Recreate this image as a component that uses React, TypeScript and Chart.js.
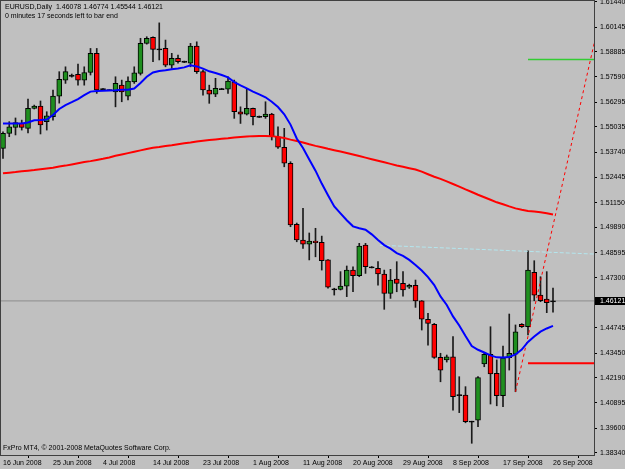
import React, { useEffect, useRef } from 'react';
import { Chart, registerables } from 'chart.js';

Chart.register(...registerables);

// ---- Data (EURUSD daily, 16 Jun 2008 .. 26 Sep 2008, one value per bar) ----
const openP = [
  1.5393, 1.5470, 1.5501, 1.5521, 1.5496, 1.5598, 1.5610, 1.5530, 1.5555, 1.5661,
  1.5743, 1.5765, 1.5772, 1.5743, 1.5782, 1.5880, 1.5696, 1.5692, 1.5683, 1.5717,
  1.5661, 1.5734, 1.5777, 1.5931, 1.5962, 1.5900, 1.5905, 1.5820, 1.5854, 1.5837,
  1.5829, 1.5917, 1.5786, 1.5692, 1.5671, 1.5697, 1.5697, 1.5734, 1.5581, 1.5568,
  1.5598, 1.5555, 1.5555, 1.5569, 1.5453, 1.5399, 1.5317, 1.5004, 1.4924, 1.4903,
  1.4919, 1.4912, 1.4822, 1.4671, 1.4671, 1.4688, 1.4770, 1.4741, 1.4898, 1.4784,
  1.4779, 1.4750, 1.4651, 1.4724, 1.4702, 1.4682, 1.4692, 1.4612, 1.4518, 1.4492,
  1.4323, 1.4310, 1.4326, 1.4130, 1.4130, 1.3994, 1.4002, 1.4289, 1.4339, 1.4241,
  1.4127, 1.4321, 1.4340, 1.4492, 1.4480, 1.4758, 1.4642, 1.4622, 1.46078,
];
const highP = [
  1.5478, 1.5530, 1.5549, 1.5538, 1.5646, 1.5615, 1.5636, 1.5581, 1.5692, 1.5786,
  1.5811, 1.5774, 1.5825, 1.5811, 1.5905, 1.5905, 1.5700, 1.5694, 1.5760, 1.5743,
  1.5760, 1.5811, 1.5957, 1.5965, 1.5965, 1.6036, 1.5948, 1.5880, 1.5871, 1.5840,
  1.5931, 1.5939, 1.5794, 1.5717, 1.5752, 1.5701, 1.5760, 1.5743, 1.5606, 1.5701,
  1.5600, 1.5559, 1.5632, 1.5573, 1.5504, 1.5496, 1.5325, 1.5011, 1.5086, 1.4960,
  1.4984, 1.4944, 1.4824, 1.4677, 1.4762, 1.4791, 1.4787, 1.4907, 1.4907, 1.4788,
  1.4813, 1.4770, 1.4774, 1.4813, 1.4762, 1.4698, 1.4719, 1.4614, 1.4549, 1.4497,
  1.4344, 1.4335, 1.4429, 1.4224, 1.4173, 1.3996, 1.4224, 1.4344, 1.4480, 1.4310,
  1.4381, 1.4545, 1.4489, 1.4496, 1.4869, 1.4818, 1.4736, 1.4762, 1.46774,
];
const lowP = [
  1.5342, 1.5453, 1.5462, 1.5487, 1.5472, 1.5595, 1.5467, 1.5487, 1.5538, 1.5625,
  1.5726, 1.5758, 1.5717, 1.5717, 1.5769, 1.5675, 1.5692, 1.5689, 1.5606, 1.5632,
  1.5641, 1.5726, 1.5769, 1.5927, 1.5837, 1.5846, 1.5811, 1.5803, 1.5829, 1.5833,
  1.5811, 1.5777, 1.5666, 1.5624, 1.5658, 1.5694, 1.5675, 1.5547, 1.5521, 1.5564,
  1.5513, 1.5551, 1.5547, 1.5436, 1.5393, 1.5299, 1.4992, 1.4915, 1.4881, 1.4822,
  1.4838, 1.4770, 1.4677, 1.4642, 1.4668, 1.4634, 1.4659, 1.4736, 1.4753, 1.4781,
  1.4693, 1.4569, 1.4625, 1.4659, 1.4637, 1.4676, 1.4579, 1.4463, 1.4386, 1.4318,
  1.4198, 1.4299, 1.4053, 1.4040, 1.3988, 1.3883, 1.3968, 1.4275, 1.4084, 1.4075,
  1.4070, 1.4258, 1.4147, 1.4476, 1.4438, 1.4613, 1.4608, 1.4552, 1.45544,
];
const closeP = [
  1.5470, 1.5504, 1.5525, 1.5501, 1.5598, 1.5610, 1.5513, 1.5560, 1.5661, 1.5747,
  1.5786, 1.5765, 1.5743, 1.5782, 1.5880, 1.5692, 1.5696, 1.5692, 1.5726, 1.5683,
  1.5738, 1.5780, 1.5931, 1.5957, 1.5900, 1.5900, 1.5820, 1.5854, 1.5837, 1.5837,
  1.5917, 1.5786, 1.5692, 1.5671, 1.5701, 1.5697, 1.5738, 1.5581, 1.5568, 1.5598,
  1.5555, 1.5555, 1.5569, 1.5453, 1.5399, 1.5317, 1.5001, 1.4924, 1.4903, 1.4919,
  1.4910, 1.4818, 1.4682, 1.4671, 1.4688, 1.4770, 1.4741, 1.4893, 1.4787, 1.4784,
  1.4750, 1.4651, 1.4719, 1.4702, 1.4668, 1.4692, 1.4612, 1.4518, 1.4497, 1.4323,
  1.4258, 1.4326, 1.4122, 1.4130, 1.3994, 1.3994, 1.4219, 1.4339, 1.4238, 1.4127,
  1.4321, 1.4344, 1.4454, 1.4480, 1.4770, 1.4642, 1.4613, 1.4603, 1.46121,
];
const maFast = [
  1.5521, 1.5521, 1.5521, 1.5521, 1.5526, 1.5537, 1.5538, 1.5541, 1.5564, 1.5595,
  1.5615, 1.5630, 1.5646, 1.5666, 1.5684, 1.5687, 1.5688, 1.5690, 1.5691, 1.5693,
  1.5694, 1.5700, 1.5728, 1.5760, 1.5782, 1.5790, 1.5793, 1.5798, 1.5802, 1.5808,
  1.5819, 1.5813, 1.5802, 1.5788, 1.5779, 1.5769, 1.5757, 1.5733, 1.5716, 1.5701,
  1.5684, 1.5670, 1.5655, 1.5632, 1.5605, 1.5568, 1.5515, 1.5444, 1.5395, 1.5336,
  1.5279, 1.5213, 1.5153, 1.5096, 1.5060, 1.5025, 1.4994, 1.4984, 1.4977, 1.4953,
  1.4924, 1.4898, 1.4880, 1.4857, 1.4843, 1.4822, 1.4796, 1.4768, 1.4734, 1.4693,
  1.4635, 1.4591, 1.4533, 1.4486, 1.4432, 1.4381, 1.4362, 1.4348, 1.4333, 1.4323,
  1.4322, 1.4325, 1.4338, 1.4363, 1.4402, 1.4430, 1.4455, 1.4471, 1.4484,
];
const maSlow = [
  1.5266, 1.5269, 1.5272, 1.5276, 1.5279, 1.5282, 1.5286, 1.5290, 1.5294, 1.5300,
  1.5305, 1.5311, 1.5317, 1.5323, 1.5328, 1.5334, 1.5340, 1.5347, 1.5355, 1.5362,
  1.5369, 1.5376, 1.5383, 1.5390, 1.5396, 1.5400, 1.5405, 1.5409, 1.5414, 1.5419,
  1.5423, 1.5428, 1.5432, 1.5436, 1.5439, 1.5442, 1.5445, 1.5449, 1.5452, 1.5454,
  1.5456, 1.5457, 1.5457, 1.5456, 1.5452, 1.5446, 1.5438, 1.5431, 1.5423, 1.5414,
  1.5406, 1.5399, 1.5391, 1.5384, 1.5377, 1.5370, 1.5362, 1.5354, 1.5346, 1.5338,
  1.5330, 1.5322, 1.5314, 1.5306, 1.5299, 1.5292, 1.5285, 1.5274, 1.5261, 1.5248,
  1.5237, 1.5224, 1.5211, 1.5197, 1.5183, 1.5170, 1.5156, 1.5143, 1.5130, 1.5117,
  1.5107, 1.5096, 1.5086, 1.5079, 1.5073, 1.5070, 1.5066, 1.5061, 1.5055,
];

// drawn objects (x in bar index, y in price)
const trendX = [82, 94.6];
const trendY = [1.4147, 1.5933];
const cyanX = [60.3, 94.6];
const cyanY = [1.4897, 1.4852];
const greenX = [84, 94.6];
const greenY = [1.5849, 1.5849];
const redLvlX = [84, 94.6];
const redLvlY = [1.4293, 1.4293];

const xTickIdx = [0, 8, 16, 24, 32, 40, 48, 56, 64, 72, 80, 88];
const xTickLabels = [
  '16 Jun 2008', '25 Jun 2008', '4 Jul 2008', '14 Jul 2008', '23 Jul 2008', '1 Aug 2008',
  '11 Aug 2008', '20 Aug 2008', '29 Aug 2008', '8 Sep 2008', '17 Sep 2008', '26 Sep 2008',
];
const yTickLabels = [
  '1.61440', '1.60145', '1.58885', '1.57590', '1.56295', '1.55035', '1.53740', '1.52445',
  '1.51150', '1.49890', '1.48595', '1.47300', '1.44745', '1.43450', '1.42190', '1.40895',
  '1.39600', '1.38340',
];
const lastPrice = 1.46121;
const lastPriceLabel = '1.46121';
const headerTitle = 'EURUSD,Daily  1.46078 1.46774 1.45544 1.46121';
const headerTimer = '0 minutes 17 seconds left to bar end';
const copyright = 'FxPro MT4, \u00A9 2001-2008 MetaQuotes Software Corp.';

const X_MIN = -0.32;
const X_MAX = 94.56;
const Y_MIN = 1.3823;
const Y_MAX = 1.6148;

const FONT = '"Liberation Sans", Arial, sans-serif';
const BG = '#C0C0C0';
const UP = '#1F8F1F';
const DOWN = '#FF0000';

const pts = (xs: number[], ys: number[]) => xs.map((x, i) => ({ x, y: ys[i] }));

const mt4Plugin = {
  id: 'mt4',
  beforeDraw(chart: any) {
    const { ctx, width, height } = chart;
    ctx.save();
    ctx.fillStyle = BG;
    ctx.fillRect(0, 0, width, height);
    ctx.restore();
  },
  afterDraw(chart: any) {
    const { ctx, chartArea: a, scales } = chart;
    ctx.save();
    ctx.strokeStyle = '#404040';
    ctx.lineWidth = 1;
    ctx.strokeRect(a.left - 0.5, a.top - 0.5, a.right - a.left + 1, a.bottom - a.top + 1);
    // current price box
    const py = scales.y.getPixelForValue(lastPrice);
    ctx.fillStyle = '#000';
    ctx.fillRect(a.right + 1, Math.round(py) - 4, 31, 8);
    ctx.fillStyle = '#fff';
    ctx.font = `7px ${FONT}`;
    ctx.textBaseline = 'middle';
    ctx.textAlign = 'left';
    ctx.fillText(lastPriceLabel, a.right + 6, py);
    // texts
    ctx.fillStyle = '#000';
    ctx.fillText(headerTitle, 5, 7);
    ctx.fillText(headerTimer, 5, 16);
    ctx.fillText(copyright, 3, 448);
    ctx.restore();
  },
};

export default function App() {
  const ref = useRef<HTMLCanvasElement>(null);
  useEffect(() => {
    document.body.style.margin = '0';
    const idx = openP.map((_, i) => i);
    const isDoji = (i: number) => Math.abs(openP[i] - closeP[i]) < 0.0005;
    const bodyData = idx.map((i) => {
      if (isDoji(i)) {
        const m = (openP[i] + closeP[i]) / 2;
        return { x: i, y: [m - 0.0003, m + 0.0003] };
      }
      return { x: i, y: [Math.min(openP[i], closeP[i]), Math.max(openP[i], closeP[i])] };
    });
    const bodyColors = idx.map((i) => (isDoji(i) ? '#000' : closeP[i] > openP[i] ? UP : DOWN));
    const wickData = idx.map((i) => ({ x: i, y: [lowP[i], highP[i]] }));

    const lineBase = { type: 'line', pointRadius: 0, fill: false, tension: 0 };
    const chart = new Chart(ref.current as HTMLCanvasElement, {
      type: 'bar',
      data: {
        datasets: [
          { ...lineBase, label: 'MA fast', data: pts(idx, maFast), borderColor: '#0000FF', borderWidth: 2, order: 0 },
          { ...lineBase, label: 'MA slow', data: pts(idx, maSlow), borderColor: '#FF0000', borderWidth: 2, order: 0 },
          { ...lineBase, label: 'trend', data: pts(trendX, trendY), borderColor: '#FF0000', borderWidth: 1, borderDash: [3, 3], order: 0 },
          { ...lineBase, label: 'level', data: pts(cyanX, cyanY), borderColor: '#B4E6EE', borderWidth: 1, borderDash: [4, 2], order: 0 },
          { ...lineBase, label: 'green', data: pts(greenX, greenY), borderColor: '#33CC33', borderWidth: 1.5, order: 0 },
          { ...lineBase, label: 'red', data: pts(redLvlX, redLvlY), borderColor: '#FF0000', borderWidth: 2, order: 0 },
          {
            type: 'bar', label: 'body', data: bodyData, backgroundColor: bodyColors, borderColor: '#000',
            borderWidth: 1, borderSkipped: false, barThickness: 5, grouped: false, order: 1,
          },
          {
            type: 'bar', label: 'wick', data: wickData, backgroundColor: '#1A1A1A', borderWidth: 0,
            barThickness: 1, grouped: false, order: 2,
          },
          { ...lineBase, label: 'bid', data: pts([X_MIN, X_MAX], [lastPrice, lastPrice]), borderColor: '#8C8C8C', borderWidth: 1, order: 3 },
        ] as any,
      },
      options: {
        responsive: false,
        animation: false,
        devicePixelRatio: 1,
        layout: { padding: { left: 1, top: 1, right: 0, bottom: 0 } },
        plugins: { legend: { display: false }, tooltip: { enabled: false } },
        scales: {
          x: {
            type: 'linear',
            min: X_MIN,
            max: X_MAX,
            offset: false,
            grid: { display: true, drawOnChartArea: false, drawTicks: true, tickLength: 3, tickColor: '#000' },
            border: { display: true, color: '#505050' },
            ticks: {
              autoSkip: false, maxRotation: 0, minRotation: 0, align: 'start', padding: 1,
              font: { family: FONT, size: 7 }, color: '#000',
              callback: (_v: any, i: number) => xTickLabels[i] ?? '',
            },
            afterBuildTicks: (s: any) => { s.ticks = xTickIdx.map((v) => ({ value: v })); },
            afterFit: (s: any) => {
              s.height = 14;
              s.paddingLeft = 0; s.paddingRight = 0; s.paddingTop = 0; s.paddingBottom = 0;
            },
          },
          y: {
            type: 'linear',
            position: 'right',
            min: Y_MIN,
            max: Y_MAX,
            grid: { display: true, drawOnChartArea: false, drawTicks: true, tickLength: 3, tickColor: '#000' },
            border: { display: true, color: '#505050' },
            ticks: {
              autoSkip: false, padding: 3, font: { family: FONT, size: 7 }, color: '#000',
              callback: (_v: any, i: number) => yTickLabels[i] ?? '',
            },
            afterBuildTicks: (s: any) => { s.ticks = yTickLabels.map((l) => ({ value: parseFloat(l) })); },
            afterFit: (s: any) => {
              s.width = 31;
              s.paddingLeft = 0; s.paddingRight = 0; s.paddingTop = 0; s.paddingBottom = 0;
            },
          },
        },
      } as any,
      plugins: [mt4Plugin],
    });
    return () => chart.destroy();
  }, []);
  return <canvas ref={ref} width={625} height={469} style={{ display: 'block' }} />;
}
